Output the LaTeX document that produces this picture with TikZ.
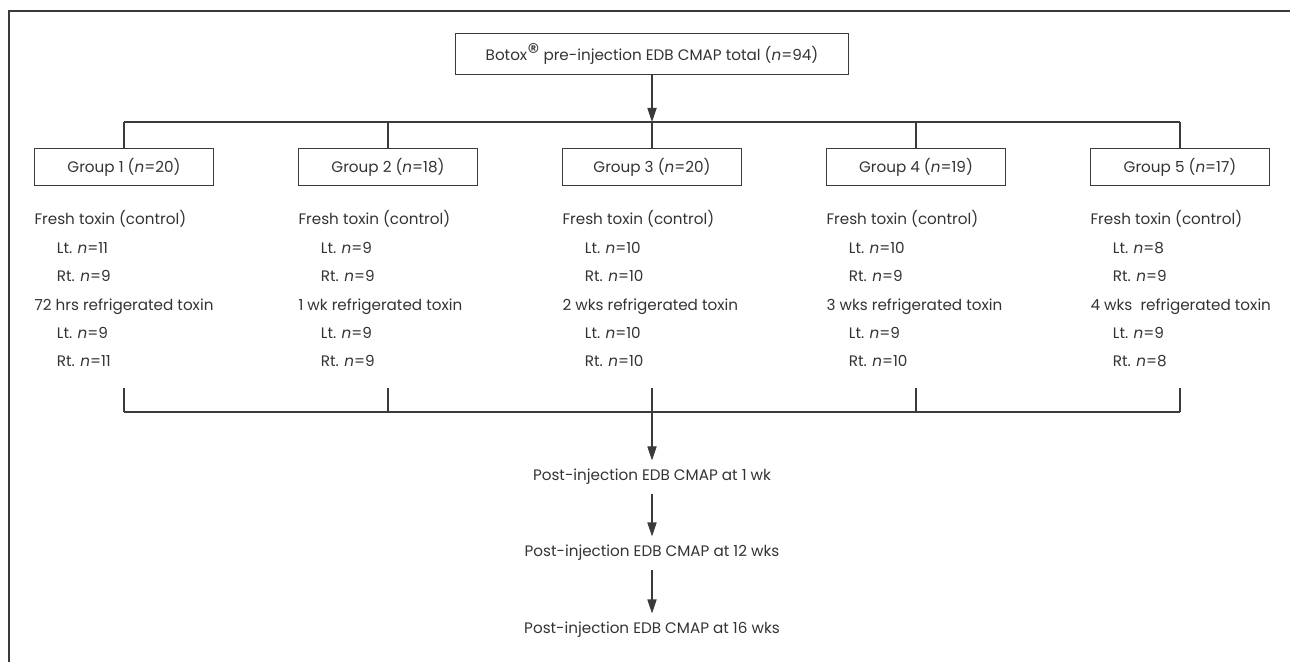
\documentclass[tikz,border=0pt]{standalone}
\usepackage{fontspec}
\setmainfont{Poppins}
\usetikzlibrary{arrows.meta, positioning}
\definecolor{linegray}{HTML}{3A3A3A}
\definecolor{textgray}{HTML}{333333}
\tikzset{
    flowarrow/.style={-{Triangle[length=7pt, width=4.6pt]}},
    flowarrow/.default={}
}
\begin{document}
\begin{tikzpicture}[x=0.5pt, y=-0.5pt, color=linegray, line width=0.55pt]
    \def \dx {264}
    \def \xo {124}
    \tikzstyle{every node}=[text=textgray, font=\fontsize{7.6}{9}\selectfont];
    \tikzstyle{box}=[draw=linegray, minimum width=89.7pt, minimum height=18.9pt, inner sep=0pt];
    \tikzstyle{txt}=[anchor=base west, inner sep=0pt];
    \tikzstyle{post}=[minimum height=16pt, inner sep=0pt];
    \useasboundingbox (0,0) rectangle (1290,662);
    \draw[line width=0.7pt] (1290,11) -- (9,11) -- (9,662);
    \node[box, minimum width=196.3pt, minimum height=20.9pt] (top) at (652,54)
        {Botox{\fontsize{12}{12}\selectfont ®} pre-injection EDB CMAP total (\textit{n}=94)};
    \foreach \i/\tot/\a/\b/\w/\c/\d in {1/20/11/9/72 hrs/9/11, 2/18/9/9/1 wk/9/9,
        3/20/10/10/2 wks/10/10, 4/19/10/9/3 wks/9/10, 5/17/8/9/4 wks\ /9/8}{
    \pgfmathsetmacro{\x}{\xo+(\i-1)*\dx}
    \coordinate (t\i) at (\x,122);
    \coordinate (b\i) at (\x,388);
    \coordinate (c\i) at (\x,412);
    \node[box] (g\i) at (\x,167) {Group \i\ (\textit{n}=\tot)};
    \node[txt] (f\i) at (\x-90,225) {Fresh toxin (control)};
    \node[txt] (fl\i) at (\x-67.6,253.4) {Lt. \textit{n}=\a};
    \node[txt] (fr\i) at (\x-67.6,281.8) {Rt. \textit{n}=\b};
    \node[txt] (r\i) at (\x-90,310.2) {\w\ refrigerated toxin};
    \node[txt] (rl\i) at (\x-67.6,338.6) {Lt. \textit{n}=\c};
    \node[txt] (rr\i) at (\x-67.6,367) {Rt. \textit{n}=\d};
    \draw (t\i) -- (g\i);
    \draw (b\i) -- (c\i);
    }
    \draw (t1) -- (t5);
    \draw (c1) -- (c5);
    \draw[flowarrow] (top) -- (t3);
    \node[post] (p1) at (652,477) {Post-injection EDB CMAP at 1 wk};
    \node[post] (p2) at (652,553) {Post-injection EDB CMAP at 12 wks};
    \node[post] (p3) at (652,630) {Post-injection EDB CMAP at 16 wks};
    \draw[flowarrow] (c3) -- (p1);
    \draw[flowarrow] (p1) -- (p2);
    \draw[flowarrow] (p2) -- (p3);
\end{tikzpicture}
\end{document}
